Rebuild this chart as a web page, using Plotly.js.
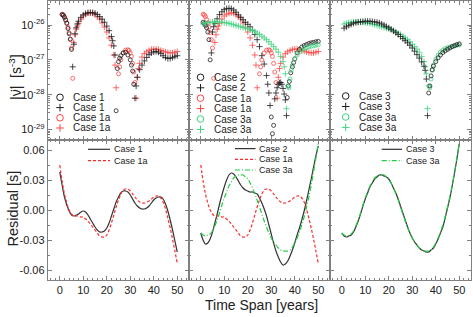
<!DOCTYPE html>
<html><head><meta charset="utf-8">
<script src="https://cdn.plot.ly/plotly-3.0.1.min.js"></script>
<style>html,body{margin:0;padding:0;background:#fff;} #chart{width:473px;height:317px;}</style>
</head><body><div id="chart"></div>
<script>
// ---------- TOP PANELS: |nu-dot-dot| (log10 values), circles and crosses ----------
// Case 1 (left)
const c1_o_yr = [1, 1.5, 2, 2.5, 3, 3.5, 4, 4.5, 5, 24, 24.5, 25, 25.5, 26, 27, 28, 29, 30, 30.5, 31, 31.5];
const c1_o_lg = [-25.70, -25.72, -25.78, -25.86, -25.95, -26.10, -26.25, -26.40, -26.70, -28.46, -27.25, -27.05, -26.95, -26.88, -26.80, -26.78, -26.86, -27.0, -27.15, -27.32, -27.7];
const c1_p_yr = [5.5, 6, 6.5, 7, 7.5, 8, 9, 10, 11, 12, 13, 14, 15, 16, 17, 18, 19, 20, 21, 22, 22.5, 23, 23.5,
                 32, 32.5, 33, 34, 35, 36, 37, 38, 39, 40, 41, 42, 43, 44, 45, 46, 47, 48, 49, 50];
const c1_p_lg = [-27.2, -26.55, -26.25, -26.08, -25.97, -25.89, -25.78, -25.71, -25.67, -25.645, -25.64, -25.645, -25.66, -25.70, -25.76, -25.83, -25.92, -26.03, -26.16, -26.33, -26.45, -26.60, -26.86,
                 -28.1, -27.75, -27.5, -27.28, -27.15, -27.03, -26.93, -26.85, -26.80, -26.77, -26.76, -26.78, -26.82, -26.88, -26.93, -26.96, -26.96, -26.93, -26.90, -26.88];
// Case 1a (left and middle)
const c1a_o_yr = [1, 1.5, 2, 2.5, 3, 3.5, 4, 4.5, 5, 5.5, 25, 25.5, 26, 27, 28, 29, 29.5, 30, 30.5, 31, 31.5, 32];
const c1a_o_lg = [-25.69, -25.71, -25.76, -25.84, -25.94, -26.06, -26.22, -26.42, -26.66, -27.53, -27.4, -27.2, -27.0, -26.8, -26.72, -26.71, -26.73, -26.8, -26.9, -27.1, -27.35, -27.65];
const c1a_p_yr = [6, 6.5, 7, 7.5, 8, 9, 10, 11, 12, 13, 14, 15, 16, 17, 18, 19, 20, 21, 22, 23, 23.5, 24,
                  32.5, 33, 33.5, 34, 35, 36, 37, 38, 39, 40, 41, 42, 43, 44, 45, 46, 47, 48, 49, 50];
const c1a_p_lg = [-26.5, -26.28, -26.12, -26.03, -25.95, -25.83, -25.74, -25.69, -25.66, -25.65, -25.66, -25.70, -25.76, -25.83, -25.94, -26.06, -26.2, -26.37, -26.58, -26.86, -27.15, -27.8,
                  -28.1, -27.5, -27.25, -27.1, -26.92, -26.82, -26.77, -26.73, -26.70, -26.69, -26.69, -26.70, -26.73, -26.75, -26.77, -26.79, -26.80, -26.80, -26.78, -26.76];
// Case 2 (middle)
const c2_o_yr = [1, 1.5, 2, 2.5, 3, 3.5, 4, 30, 30.5, 31,
                 36.8, 37.3, 37.7, 38.3, 39, 39.5, 40, 41, 42, 43, 44, 45, 46, 47, 48, 49, 50];
const c2_o_lg = [-25.92, -25.96, -26.01, -26.08, -26.2, -26.42, -27.0, -28.64, -29.12, -28.88,
                 -28.08, -27.75, -27.62, -27.37, -27.2, -27.08, -26.97, -26.8, -26.7, -26.63, -26.59, -26.56, -26.53, -26.51, -26.5, -26.48, -26.47];
const c2_p_yr = [4.5, 5, 5.5, 6, 7, 8, 9, 10, 11, 12, 13, 14, 15, 16, 17, 18, 19, 20, 21, 22, 23, 24, 25, 26, 27, 28, 28.5, 29, 29.5,
                 31.5, 32, 32.5, 33, 33.5, 34, 34.5, 35, 35.5, 36, 36.5];
const c2_p_lg = [-26.8, -26.2, -26.05, -25.95, -25.82, -25.7, -25.62, -25.56, -25.53, -25.52, -25.53, -25.57, -25.63, -25.71, -25.78, -25.85, -25.92, -25.98, -26.05, -26.15, -26.27, -26.42, -26.62, -26.88, -27.12, -27.45, -27.7, -27.95, -28.31,
                 -28.12, -27.95, -27.8, -27.7, -27.66, -27.65, -27.7, -27.82, -27.98, -28.15, -28.6];
// Case 3 (right)
const c3_p_yr = [1, 2, 3, 4, 5, 6, 7, 8, 9, 10, 11, 12, 13, 14, 15, 16, 17, 18, 19, 20, 21, 22, 23, 24, 25, 26, 27, 28, 29, 30, 31, 32, 33, 34, 35, 35.5, 36, 36.5];
const c3_p_lg = [-26.09, -26.05, -26.01, -25.98, -25.95, -25.93, -25.92, -25.91, -25.90, -25.89, -25.89, -25.89, -25.90, -25.91, -25.92, -25.94, -25.97, -26.00, -26.04, -26.08, -26.12, -26.17, -26.22, -26.27, -26.33, -26.39, -26.45, -26.51, -26.58, -26.66, -26.75, -26.85, -26.95, -27.06, -27.18, -27.3, -27.55, -28.6];
const c3_o_yr = [37, 37.5, 38, 38.5, 39, 40, 41, 42, 43, 44, 45, 46, 47, 48, 49, 50];
const c3_o_lg = [-27.95, -27.75, -27.46, -27.28, -27.18, -27.05, -26.94, -26.86, -26.79, -26.74, -26.70, -26.66, -26.62, -26.59, -26.56, -26.54];
// Case 3a (middle and right)
const c3a_p_yr = [1, 2, 3, 4, 5, 6, 7, 8, 9, 10, 11, 12, 13, 14, 15, 16, 17, 18, 19, 20, 21, 22, 23, 24, 25, 26, 27, 28, 29, 30, 31, 32, 33, 34, 35, 35.5, 36, 36.5];
const c3a_p_lg = [-25.97, -25.95, -25.93, -25.92, -25.91, -25.91, -25.91, -25.91, -25.92, -25.93, -25.94, -25.95, -25.97, -25.99, -26.01, -26.03, -26.05, -26.07, -26.09, -26.11, -26.13, -26.16, -26.19, -26.23, -26.27, -26.32, -26.37, -26.42, -26.48, -26.55, -26.62, -26.69, -26.78, -26.9, -27.05, -27.2, -27.4, -28.4];
const c3a_o_yr = [37, 37.5, 38, 38.5, 39, 40, 41, 42, 43, 44, 45, 46, 47, 48, 49, 50];
const c3a_o_lg = [-27.75, -27.8, -27.55, -27.3, -27.15, -26.98, -26.86, -26.77, -26.72, -26.68, -26.65, -26.63, -26.61, -26.6, -26.58, -26.57];

// ---------- BOTTOM PANELS: residuals [s] ----------
const res_yr = [0,1,2,3,4,5,6,7,8,9,10,11,12,13,14,15,16,17,18,19,20,21,22,23,24,25,26,27,28,29,30,31,32,33,34,35,36,37,38,39,40,41,42,43,44,45,46,47,48,49,50];
const res_c1 = [0.038, 0.025, 0.013, 0.005, -0.001, -0.005, -0.006, -0.005, -0.004, -0.002, -0.001, -0.002, -0.005, -0.009, -0.013, -0.017, -0.020, -0.022, -0.022, -0.021, -0.018, -0.013, -0.006, 0.001, 0.008, 0.013, 0.017, 0.019, 0.019, 0.018, 0.015, 0.011, 0.007, 0.004, 0.002, 0.001, 0.001, 0.002, 0.004, 0.007, 0.010, 0.012, 0.013, 0.013, 0.011, 0.006, -0.001, -0.010, -0.020, -0.031, -0.042];
const res_c1a = [0.045, 0.029, 0.016, 0.007, 0.000, -0.004, -0.006, -0.006, -0.006, -0.007, -0.007, -0.009, -0.011, -0.014, -0.017, -0.020, -0.023, -0.026, -0.027, -0.027, -0.025, -0.020, -0.013, -0.005, 0.003, 0.010, 0.016, 0.020, 0.021, 0.021, 0.019, 0.016, 0.013, 0.010, 0.008, 0.007, 0.007, 0.008, 0.009, 0.011, 0.013, 0.014, 0.014, 0.012, 0.008, 0.001, -0.008, -0.018, -0.029, -0.041, -0.053];
const res_c2 = [-0.023, -0.030, -0.034, -0.033, -0.029, -0.022, -0.013, -0.004, 0.006, 0.015, 0.023, 0.030, 0.035, 0.037, 0.036, 0.033, 0.029, 0.025, 0.022, 0.020, 0.019, 0.018, 0.018, 0.017, 0.016, 0.012, 0.007, 0.001, -0.006, -0.015, -0.024, -0.033, -0.041, -0.047, -0.052, -0.055, -0.054, -0.051, -0.046, -0.040, -0.033, -0.025, -0.018, -0.010, -0.001, 0.009, 0.020, 0.031, 0.043, 0.054, 0.064];
const res_c3 = [-0.023, -0.026, -0.027, -0.026, -0.025, -0.022, -0.017, -0.011, -0.004, 0.004, 0.011, 0.017, 0.023, 0.027, 0.031, 0.033, 0.035, 0.035, 0.034, 0.033, 0.031, 0.027, 0.022, 0.017, 0.011, 0.004, -0.003, -0.010, -0.017, -0.023, -0.028, -0.032, -0.035, -0.038, -0.040, -0.041, -0.042, -0.042, -0.040, -0.038, -0.034, -0.029, -0.023, -0.017, -0.008, 0.002, 0.012, 0.024, 0.037, 0.051, 0.066];
const res_c3a = [-0.023, -0.025, -0.026, -0.025, -0.024, -0.021, -0.016, -0.010, -0.003, 0.005, 0.012, 0.018, 0.024, 0.028, 0.032, 0.034, 0.035, 0.035, 0.035, 0.033, 0.031, 0.027, 0.022, 0.016, 0.010, 0.003, -0.004, -0.011, -0.017, -0.023, -0.028, -0.032, -0.035, -0.038, -0.040, -0.041, -0.041, -0.041, -0.040, -0.037, -0.033, -0.028, -0.022, -0.015, -0.007, 0.003, 0.013, 0.025, 0.038, 0.052, 0.067];

// ---------- tick labels ----------
const logTickVals = [1e-29, 1e-28, 1e-27, 1e-26];
const logTickText = ['10<sup>-29</sup>', '10<sup>-28</sup>', '10<sup>-27</sup>', '10<sup>-26</sup>'];
const resTickVals = [-0.06, -0.03, 0, 0.03, 0.06];
const resTickText = ['-0.06', '-0.03', '0.00', '0.03', '0.06'];
const xTickVals = [0, 10, 20, 30, 40, 50];

// ---------- styles ----------
const BLACK = '#1e1e1e', RED = '#ff4646', GREEN = '#3fd27f';
const LBLACK = '#333333', LRED = '#ff2a2a', LGREEN = '#22cc44';
const FONT = 'Liberation Sans, Arial, sans-serif';
const AX = '#808080';

const pow10 = a => a.map(v => Math.pow(10, v));

function pts(xa, lg, sym, color, xa_, ya_) {
  const isCircle = sym === 'o';
  return {
    type: 'scatter', mode: 'markers', x: xa, y: pow10(lg), xaxis: xa_, yaxis: ya_,
    showlegend: false, hoverinfo: 'skip',
    marker: {
      symbol: isCircle ? 'circle-open' : 'cross-thin-open',
      size: isCircle ? 4 : 4.4, color: color,
      line: {color: color, width: 0.8}
    }
  };
}
function line(y, color, dash, xa_, ya_) {
  return {
    type: 'scatter', mode: 'lines', x: res_yr, y: y, xaxis: xa_, yaxis: ya_,
    showlegend: false, hoverinfo: 'skip',
    line: {color: color, width: 1.2, dash: dash, shape: 'spline', smoothing: 1}
  };
}

const traces = [
  // top-left
  pts(c1a_o_yr, c1a_o_lg, 'o', RED, 'x', 'y'),
  pts(c1a_p_yr, c1a_p_lg, '+', RED, 'x', 'y'),
  pts(c1_o_yr, c1_o_lg, 'o', BLACK, 'x', 'y'),
  pts(c1_p_yr, c1_p_lg, '+', BLACK, 'x', 'y'),
  // top-middle
  pts(c1a_o_yr, c1a_o_lg, 'o', RED, 'x2', 'y2'),
  pts(c1a_p_yr, c1a_p_lg, '+', RED, 'x2', 'y2'),
  pts(c2_o_yr, c2_o_lg, 'o', BLACK, 'x2', 'y2'),
  pts(c2_p_yr, c2_p_lg, '+', BLACK, 'x2', 'y2'),
  pts(c3a_o_yr, c3a_o_lg, 'o', GREEN, 'x2', 'y2'),
  pts(c3a_p_yr, c3a_p_lg, '+', GREEN, 'x2', 'y2'),
  // top-right
  pts(c3a_o_yr, c3a_o_lg, 'o', GREEN, 'x3', 'y3'),
  pts(c3a_p_yr, c3a_p_lg, '+', GREEN, 'x3', 'y3'),
  pts(c3_o_yr, c3_o_lg, 'o', BLACK, 'x3', 'y3'),
  pts(c3_p_yr, c3_p_lg, '+', BLACK, 'x3', 'y3'),
  // bottom
  line(res_c1, LBLACK, 'solid', 'x4', 'y4'),
  line(res_c1a, LRED, '3px,2px', 'x4', 'y4'),
  line(res_c2, LBLACK, 'solid', 'x5', 'y5'),
  line(res_c1a, LRED, '3px,2px', 'x5', 'y5'),
  line(res_c3a, LGREEN, '5px,2px,1px,2px', 'x5', 'y5'),
  line(res_c3, LBLACK, 'solid', 'x6', 'y6'),
  line(res_c3a, LGREEN, '5px,2px,1px,2px', 'x6', 'y6')
];

// ---------- layout ----------
const W = 473, H = 317, ML = 48, MR = 2, MT = 1, MB = 37;
const PW = W - ML - MR, PH = H - MT - MB;
const SPLIT = 140; // px where top and bottom panels meet
const ySplit = (H - MB - SPLIT) / PH;
const P = px => (px - ML) / PW;
const Q = py => (H - MB - py) / PH;

const base = {
  showline: true, linecolor: AX, linewidth: 1.2, mirror: 'ticks',
  ticks: 'inside', ticklen: 4, tickwidth: 1, tickcolor: AX,
  showgrid: false, zeroline: false,
  tickfont: {family: FONT, size: 11, color: '#222'}
};
function xAx(i, bottom) {
  return Object.assign({}, base, {
    domain: [i / 3, (i + 1) / 3], range: [-5, 55],
    tickvals: xTickVals, showticklabels: bottom,
    minor: {ticks: 'inside', ticklen: 2, tickcolor: AX, dtick: 2, tick0: 0}
  });
}
function yTop(showLabels) {
  return Object.assign({}, base, {
    domain: [ySplit, 1], type: 'log', range: [-29.30, -25.31],
    tickvals: logTickVals, ticktext: logTickText, showticklabels: showLabels,
    minor: {ticks: 'inside', ticklen: 2, tickcolor: AX, dtick: 'D1'}
  });
}
function yBot(showLabels) {
  return Object.assign({}, base, {
    domain: [0, ySplit], range: [-0.07, 0.07],
    tickvals: resTickVals, ticktext: resTickText, showticklabels: showLabels,
    minor: {ticks: 'inside', ticklen: 2, tickcolor: AX, dtick: 0.015, tick0: 0}
  });
}

const shapes = [], annotations = [];
function symLegend(symX, rows, entries) {
  entries.forEach((e, i) => {
    const py = rows[i];
    const r = 3.3;
    if (e[0] === 'o') {
      shapes.push({type: 'circle', xref: 'paper', yref: 'paper',
        x0: P(symX - r), x1: P(symX + r), y0: Q(py + r), y1: Q(py - r),
        line: {color: e[1], width: 1}});
    } else {
      shapes.push({type: 'line', xref: 'paper', yref: 'paper',
        x0: P(symX - 3.8), x1: P(symX + 3.8), y0: Q(py), y1: Q(py), line: {color: e[1], width: 1}});
      shapes.push({type: 'line', xref: 'paper', yref: 'paper',
        x0: P(symX), x1: P(symX), y0: Q(py - 3.8), y1: Q(py + 3.8), line: {color: e[1], width: 1}});
    }
    annotations.push({xref: 'paper', yref: 'paper', x: P(symX + 11), y: Q(py),
      xanchor: 'left', yanchor: 'middle', showarrow: false, text: e[2],
      font: {family: FONT, size: 10, color: '#222'}});
  });
}
function lineLegend(x0, x1, rows, entries) {
  entries.forEach((e, i) => {
    const py = rows[i];
    shapes.push({type: 'line', xref: 'paper', yref: 'paper',
      x0: P(x0), x1: P(x1), y0: Q(py), y1: Q(py),
      line: {color: e[0], width: 1.2, dash: e[1]}});
    annotations.push({xref: 'paper', yref: 'paper', x: P(x1 + 1.5), y: Q(py),
      xanchor: 'left', yanchor: 'middle', showarrow: false, text: e[2],
      font: {family: FONT, size: 9, color: '#222'}});
  });
}

symLegend(60, [97.3, 107.6, 117.8, 128.0], [
  ['o', BLACK, 'Case 1'], ['+', BLACK, 'Case 1'], ['o', RED, 'Case 1a'], ['+', RED, 'Case 1a']]);
symLegend(200.5, [77.3, 87.8, 98.2, 108.6, 119.0, 129.4], [
  ['o', BLACK, 'Case 2'], ['+', BLACK, 'Case 2'], ['o', RED, 'Case 1a'], ['+', RED, 'Case 1a'],
  ['o', GREEN, 'Case 3a'], ['+', GREEN, 'Case 3a']]);
symLegend(345.7, [96.0, 106.5, 117.0, 127.4], [
  ['o', BLACK, 'Case 3'], ['+', BLACK, 'Case 3'], ['o', GREEN, 'Case 3a'], ['+', GREEN, 'Case 3a']]);

lineLegend(88, 110, [149.3, 160.6], [
  [LBLACK, 'solid', 'Case 1'], [LRED, '3px,2px', 'Case 1a']]);
lineLegend(235, 255.5, [148.6, 159.3, 170.0], [
  [LBLACK, 'solid', 'Case 2'], [LRED, '3px,2px', 'Case 1a'], [LGREEN, '5px,2px,1px,2px', 'Case 3a']]);
lineLegend(381.7, 402, [149.3, 160.6], [
  [LBLACK, 'solid', 'Case 3'], [LGREEN, '5px,2px,1px,2px', 'Case 3a']]);

// axis titles
annotations.push({xref: 'paper', yref: 'paper', x: P(15), y: Q(77), xanchor: 'center', yanchor: 'middle',
  textangle: -90, showarrow: false, text: '|ν̈|  [s<sup>-3</sup>]',
  font: {family: FONT, size: 14, color: '#222'}});
annotations.push({xref: 'paper', yref: 'paper', x: P(12.5), y: Q(209), xanchor: 'center', yanchor: 'middle',
  textangle: -90, showarrow: false, text: 'Residual [s]',
  font: {family: FONT, size: 14.5, color: '#222'}});
annotations.push({xref: 'paper', yref: 'paper', x: P(261), y: Q(305), xanchor: 'center', yanchor: 'middle',
  showarrow: false, text: 'Time Span [years]',
  font: {family: FONT, size: 14, color: '#222'}});

const layout = {
  width: W, height: H, margin: {l: ML, r: MR, t: MT, b: MB, pad: 0},
  paper_bgcolor: '#fff', plot_bgcolor: '#fff', showlegend: false,
  font: {family: FONT, size: 11, color: '#222'},
  xaxis: Object.assign(xAx(0, false), {anchor: 'y'}),
  xaxis2: Object.assign(xAx(1, false), {anchor: 'y2'}),
  xaxis3: Object.assign(xAx(2, false), {anchor: 'y3'}),
  xaxis4: Object.assign(xAx(0, true), {anchor: 'y4'}),
  xaxis5: Object.assign(xAx(1, true), {anchor: 'y5'}),
  xaxis6: Object.assign(xAx(2, true), {anchor: 'y6'}),
  yaxis: Object.assign(yTop(true), {anchor: 'x'}),
  yaxis2: Object.assign(yTop(false), {anchor: 'x2'}),
  yaxis3: Object.assign(yTop(false), {anchor: 'x3'}),
  yaxis4: Object.assign(yBot(true), {anchor: 'x4'}),
  yaxis5: Object.assign(yBot(false), {anchor: 'x5'}),
  yaxis6: Object.assign(yBot(false), {anchor: 'x6'}),
  shapes: shapes, annotations: annotations
};

Plotly.newPlot('chart', traces, layout, {staticPlot: true, displayModeBar: false});
</script></body></html>
